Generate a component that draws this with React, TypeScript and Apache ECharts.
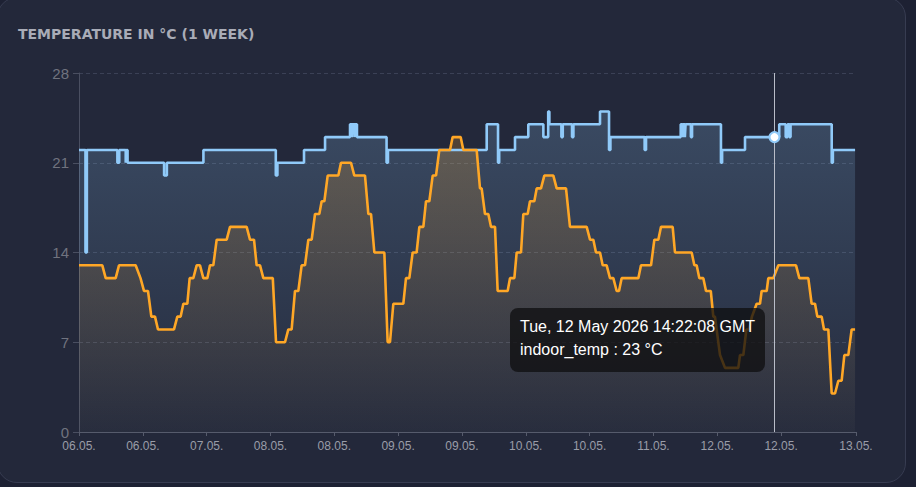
import React, { useEffect, useRef } from "react";
import * as echarts from "echarts";

// ---- data ----
const TITLE = "TEMPERATURE IN °C (1 WEEK)";
const START_UTC = Date.UTC(2026, 4, 6, 8, 0, 0); // hour 0 of the window
const TOOLTIP_UTC = Date.UTC(2026, 4, 12, 14, 22, 8);

// y axis
const Y_MIN = 0;
const Y_MAX = 28;
const Y_STEP = 7;

// x axis ticks (hours since start) and their labels
const xTickHours = [0, 13.8, 27.6, 41.4, 55.2, 69, 82.8, 96.6, 110.4, 124.2, 138, 151.8, 168];
const xTickLabels = ["06.05.", "06.05.", "07.05.", "08.05.", "08.05.", "09.05.", "09.05.", "10.05.", "10.05.", "11.05.", "12.05.", "12.05.", "13.05."];

// indoor temperature: change points (hour since start, °C), stepped
const indoorHours = [
  0, 1.4, 1.7, 8.3, 8.7, 10.1, 10.25, 10.5, 18.4, 19.0, 26.9, 42.55, 42.9, 48.65, 53.2,
  58.6, 59.0, 59.15, 59.6, 59.75, 60.1, 66.5, 66.8, 88.15, 90.6, 90.85, 94.27, 97.15,
  100.4, 101.45, 101.7, 104.3, 104.6, 106.6, 106.9, 112.65, 114.6, 114.9, 122.3, 122.6,
  130.1, 130.5, 130.65, 131.0, 131.15, 132.3, 132.55, 138.8, 139.05, 144.0, 151.4,
  152.8, 153.2, 153.6, 153.85, 162.75, 163.0, 167.8,
];
const indoorTemps = [
  22, 14, 22, 21, 22, 21, 22, 21, 20, 21, 22, 20, 21, 22, 23,
  24, 23, 24, 23, 24, 23, 21, 22, 24, 21, 22, 23, 24,
  23, 25, 24, 23, 24, 23, 24, 25, 22, 23, 22, 23,
  24, 23, 24, 23, 24, 23, 24, 21, 22, 23, 24,
  23, 24, 23, 24, 21, 22, 22,
];

// outdoor temperature: readings (hour since start, °C)
const outdoorHours = [
  0, 5.04, 5.77, 7.93, 8.65, 12.25, 13.3, 14.05, 14.92, 15.64, 16.43, 17.08, 20.54, 21.26,
  21.98, 22.56, 23.42, 23.93, 24.72, 25.44, 26.16, 26.88, 27.75, 28.32, 29.04, 29.77,
  31.93, 32.65, 36.25, 36.97, 37.84, 38.41, 39.14, 39.86, 41.9, 42.6, 44.54, 45.26,
  45.98, 46.7, 47.42, 48.14, 48.86, 49.59, 50.31, 51.03, 51.96, 52.47, 53.05, 53.77,
  56.07, 56.65, 58.81, 59.53, 61.84, 62.56, 63.14, 63.86, 66.02, 66.74, 67.24, 67.96,
  70.12, 70.7, 71.42, 72.14, 73.0, 73.59, 74.45, 75.03, 75.75, 76.47, 77.19, 77.91,
  80.22, 80.79, 82.52, 83.1, 85.98, 86.7, 87.06, 87.78, 88.5, 89.08, 89.95, 90.52,
  92.68, 93.19, 94.13, 94.63, 95.57, 96.07, 97.01, 97.51, 98.45, 98.96, 99.89, 100.61,
  102.56, 103.28, 105.3, 106.16, 109.77, 110.49, 111.21, 111.78, 112.65, 113.23, 114.09,
  114.81, 115.53, 116.25, 116.76, 117.33, 120.94, 121.51, 123.68, 124.4, 125.26, 125.84,
  128.36, 128.86, 132.47, 133.05, 133.55, 134.13, 134.99, 135.57, 136.6, 137.15, 137.5,
  138.6, 139.68, 142.55, 142.92, 143.64, 144.3, 144.9, 145.5, 146.52, 147.24, 147.6,
  148.69, 149.04, 150.13, 151.21, 155.03, 155.75, 157.69, 158.41, 159.14, 159.64, 160.58,
  161.08, 162.02, 162.74, 163.46, 164.18, 164.9, 165.48, 166.34, 167.06, 167.8,
];
const outdoorTemps = [
  13, 13, 12, 12, 13, 13, 12, 11, 11, 9, 9, 8, 8, 9,
  9, 10, 10, 12, 12, 13, 13, 12, 12, 13, 13, 15,
  15, 16, 16, 15, 15, 13, 13, 12, 12, 7, 7, 8,
  8, 11, 11, 13, 13, 15, 15, 17, 17, 18, 18, 20,
  20, 21, 21, 20, 20, 17, 17, 14, 14, 7, 7, 10,
  10, 12, 12, 14, 14, 16, 16, 18, 18, 20, 20, 22,
  22, 23, 23, 22, 22, 19, 19, 17, 17, 16, 16, 11,
  11, 12, 12, 14, 14, 17, 17, 18, 18, 19, 19, 20,
  20, 19, 19, 16, 16, 15, 15, 14, 14, 13, 13,
  12, 12, 11, 11, 12, 12, 13, 13, 15, 15, 16,
  16, 14, 14, 13, 13, 12, 12, 11, 11, 9, 9,
  6, 5, 5, 6, 6, 8, 8, 9, 10, 10, 11,
  11, 12, 12, 13, 13, 12, 12, 10, 10, 9, 9,
  8, 8, 3, 3, 4, 4, 6, 6, 8, 8,
];

const FONT = '"Liberation Sans", Arial, Helvetica, sans-serif';

export default function App() {
  const ref = useRef<HTMLDivElement>(null);

  useEffect(() => {
    if (!ref.current) return;
    const chart = echarts.init(ref.current, null, { renderer: "svg" });

    const indoorData = indoorHours.map((h, i) => [h, indoorTemps[i]]);
    const outdoorData = outdoorHours.map((h, i) => [h, outdoorTemps[i]]);

    const tipHour = (TOOLTIP_UTC - START_UTC) / 3600000;
    let tipValue = indoorTemps[0];
    indoorHours.forEach((h, i) => {
      if (h <= tipHour) tipValue = indoorTemps[i];
    });
    const tipLine1 = new Date(TOOLTIP_UTC).toUTCString();
    const tipLine2 = `indoor_temp : ${tipValue} °C`;

    const labelFor = (v: number) => {
      let best = 0;
      let bd = Infinity;
      xTickHours.forEach((h, i) => {
        const d = Math.abs(h - v);
        if (d < bd) {
          bd = d;
          best = i;
        }
      });
      return xTickLabels[best];
    };

    chart.setOption({
      animation: false,
      backgroundColor: "transparent",
      title: {
        text: TITLE,
        left: 18,
        top: 27,
        padding: 0,
        textStyle: {
          color: "#a9acb7",
          fontSize: 14,
          fontWeight: "bold",
          fontFamily: '"DejaVu Sans", sans-serif',
        },
      },
      grid: { left: 79, right: 60, top: 73, bottom: 55 },
      xAxis: {
        type: "value",
        min: 0,
        max: 168,
        axisLine: { show: true, lineStyle: { color: "#565b6c", width: 1 } },
        axisTick: {
          show: true,
          length: 4,
          customValues: xTickHours,
          lineStyle: { color: "#565b6c" },
        },
        axisLabel: {
          customValues: xTickHours,
          formatter: (v: number) => labelFor(v),
          color: "#9a9da8",
          fontSize: 12,
          fontFamily: FONT,
          margin: 8,
        },
        splitLine: { show: false },
      },
      yAxis: {
        type: "value",
        min: Y_MIN,
        max: Y_MAX,
        interval: Y_STEP,
        axisLine: { show: true, lineStyle: { color: "#4a4f61", width: 1 } },
        axisTick: { show: true, length: 6, lineStyle: { color: "#4a4f61" } },
        axisLabel: { color: "#70737f", fontSize: 15, fontFamily: FONT, margin: 10 },
        splitLine: {
          show: true,
          lineStyle: { color: "#3b4156", type: [4, 3], width: 1 },
        },
      },
      series: [
        {
          name: "indoor_temp",
          type: "line",
          step: "end",
          data: indoorData,
          showSymbol: false,
          symbol: "none",
          lineStyle: { color: "#90caf9", width: 2.6 },
          itemStyle: { color: "#90caf9" },
          areaStyle: {
            color: new echarts.graphic.LinearGradient(0, 0, 0, 1, [
              { offset: 0, color: "rgba(144,202,249,0.30)" },
              { offset: 1, color: "rgba(144,202,249,0.03)" },
            ]),
          },
          markLine: {
            silent: true,
            symbol: ["none", "none"],
            label: { show: false },
            lineStyle: { color: "#b9bdc8", width: 1, type: "solid" },
            data: [{ xAxis: tipHour }],
          },
          markPoint: {
            silent: true,
            symbol: "circle",
            symbolSize: 10,
            label: { show: false },
            itemStyle: { color: "#ffffff", borderColor: "#90caf9", borderWidth: 2 },
            data: [{ coord: [tipHour, tipValue] }],
          },
        },
        {
          name: "outdoor_temp",
          type: "line",
          data: outdoorData,
          showSymbol: false,
          symbol: "none",
          lineStyle: { color: "#ffa726", width: 2.6 },
          itemStyle: { color: "#ffa726" },
          areaStyle: {
            color: new echarts.graphic.LinearGradient(0, 0, 0, 1, [
              { offset: 0, color: "rgba(255,167,38,0.30)" },
              { offset: 1, color: "rgba(255,167,38,0.02)" },
            ]),
          },
        },
      ],
      graphic: [
        {
          type: "group",
          left: 510,
          top: 308,
          z: 100,
          zlevel: 0,
          children: [
            {
              type: "rect",
              z: 100,
              shape: { x: 0, y: 0, width: 255, height: 64, r: 8 },
              style: { fill: "rgba(14,14,16,0.76)" },
            },
            {
              type: "text",
              z: 101,
              x: 10,
              y: 18,
              style: {
                text: tipLine1,
                fill: "#ffffff",
                font: `16px ${FONT}`,
                verticalAlign: "middle",
              },
            },
            {
              type: "text",
              z: 101,
              x: 10,
              y: 41,
              style: {
                text: tipLine2,
                fill: "#ffffff",
                font: `16px ${FONT}`,
                verticalAlign: "middle",
              },
            },
          ],
        },
      ],
    });

    return () => chart.dispose();
  }, []);

  return (
    <div
      style={{
        position: "fixed",
        left: 0,
        top: 0,
        width: 916,
        height: 487,
        background: "#1d2133",
        overflow: "hidden",
      }}
    >
      <div
        style={{
          position: "absolute",
          left: -3,
          top: -3,
          width: 907,
          height: 484,
          borderRadius: 20,
          border: "1px solid #373c51",
          background: "#23283a",
        }}
      />
      <div ref={ref} style={{ position: "absolute", left: 0, top: 0, width: 916, height: 487 }} />
    </div>
  );
}
